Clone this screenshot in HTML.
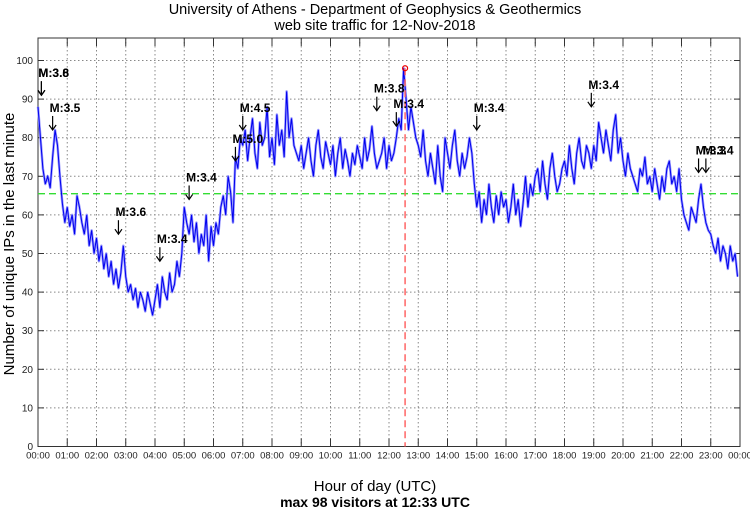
<!DOCTYPE html>
<html><head><meta charset="utf-8"><style>
body{margin:0;background:#fff;}
svg text{font-family:"Liberation Sans",sans-serif;}
</style></head><body>
<svg id="c" width="750" height="511" viewBox="0 0 750 511">
<text x="375" y="14" text-anchor="middle" font-size="14.5">University of Athens - Department of Geophysics &amp; Geothermics</text>
<text x="375" y="30" text-anchor="middle" font-size="14.5">web site traffic for 12-Nov-2018</text>
<text x="375" y="491" text-anchor="middle" font-size="15">Hour of day (UTC)</text>
<text x="375" y="507" text-anchor="middle" font-size="14" font-weight="bold">max 98 visitors at 12:33 UTC</text>
<text transform="translate(14,244) rotate(-90)" text-anchor="middle" font-size="15">Number of unique IPs in the last minute</text>
<g id="grid"></g><g id="series"></g><g id="ann"></g>
</svg>
<script>
const values = [
88,80,72,68,70,67,75,82,78,70,63,58,
62,57,60,55,65,62,58,55,60,52,56,50,
54,48,52,46,50,44,48,42,46,41,45,52,
44,40,42,38,41,36,40,38,35,40,37,34,
38,42,36,44,40,38,45,40,42,48,44,50,
62,58,55,60,53,58,50,55,52,60,48,57,
52,58,55,62,65,60,70,66,58,75,72,80,
78,82,74,80,85,76,72,84,78,80,88,75,
80,73,86,78,82,75,92,80,85,78,76,74,
78,72,76,80,74,70,78,82,75,72,79,76,
73,78,70,76,80,72,77,74,70,76,73,78,
75,72,80,74,77,83,76,72,74,76,80,72,
78,74,76,80,85,82,98,90,82,88,84,80,
78,75,82,74,70,76,72,68,78,70,66,80,
76,72,78,82,74,70,76,72,75,80,76,68,
62,66,58,64,60,68,62,58,65,60,66,62,
64,58,62,68,60,64,57,63,70,62,68,65,
70,72,66,74,68,64,72,76,70,66,68,72,
74,70,78,72,68,76,80,74,72,78,76,72,
78,74,84,80,76,82,78,74,82,86,76,80,
74,70,76,72,70,68,66,72,70,75,68,70,
66,72,68,64,70,66,72,74,68,70,66,72,
64,60,58,56,62,60,58,64,68,62,58,56,
55,52,50,54,48,52,50,46,52,48,50,44];
const stepMinutes = 5;
const meanValue = 65.5;
const peakMinute = 753;
const peakValue = 98;
const yTicks = [0,10,20,30,40,50,60,70,80,90,100];
const xTickLabels = ["00:00","01:00","02:00","03:00","04:00","05:00","06:00","07:00","08:00","09:00","10:00","11:00","12:00","13:00","14:00","15:00","16:00","17:00","18:00","19:00","20:00","21:00","22:00","23:00","00:00"];
const quakeMinutes = [7,7,30,165,250,310,405,420,695,735,900,1135,1355,1370];
const quakeLabels = ["M:3.6","M:3.8","M:3.5","M:3.6","M:3.4","M:3.4","M:5.0","M:4.5","M:3.8","M:3.4","M:3.4","M:3.4","M:3.3","M:3.4"];
const quakeLevels = [91,91,82,55,48,64,74,82,87,83,82,88,71,71];

const L=38,R=740,T=38,B=446.5;
const xs=m=>L+(R-L)*m/1440;
const ys=v=>B-(B-60.5)*v/100;
const NS="http://www.w3.org/2000/svg";
function mk(tag,attrs,parent){const e=document.createElementNS(NS,tag);for(const k in attrs)e.setAttribute(k,attrs[k]);parent.appendChild(e);return e;}
const grid=document.getElementById('grid'),ser=document.getElementById('series'),ann=document.getElementById('ann');
yTicks.forEach(v=>{
  const y=ys(v);
  if(v>0){const g=mk('line',{x1:L,x2:R,y1:y,y2:y,stroke:'#888','stroke-dasharray':'1.5,2.5','stroke-width':1},grid);
  
  }
  mk('line',{x1:L,x2:L+6,y1:y,y2:y,stroke:'#333'},grid);
  mk('line',{x1:R-6,x2:R,y1:y,y2:y,stroke:'#333'},grid);
  const t=mk('text',{x:L-5,y:y+3.5,'text-anchor':'end','font-size':10,fill:'#222'},grid);t.textContent=v;
  
  
});
xTickLabels.forEach((lab,i)=>{
  const x=xs(i*60);
  if(i>0&&i<24){const g=mk('line',{x1:x,x2:x,y1:T,y2:B,stroke:'#888','stroke-dasharray':'1.5,2.5'},grid);
  
  }
  mk('line',{x1:x,x2:x,y1:B-8,y2:B,stroke:'#333'},grid);
  mk('line',{x1:x,x2:x,y1:T,y2:T+8,stroke:'#333'},grid);
  const t=mk('text',{x:x,y:B+12,'text-anchor':'middle','font-size':9.5,fill:'#222'},grid);t.textContent=lab;
  
  
});
const fr=mk('rect',{x:L,y:T,width:R-L,height:B-T,fill:'none',stroke:'#333','stroke-width':1},grid);


const ml=mk('line',{x1:L,x2:R,y1:ys(meanValue),y2:ys(meanValue),stroke:'#33dd33','stroke-dasharray':'7,4','stroke-width':1.3},ser);


const pts=values.map((v,i)=>xs(i*stepMinutes)+','+ys(v)).join(' ');
const wide=mk('polyline',{points:pts,fill:'none',stroke:'#9999ff','stroke-width':2.5,'stroke-linejoin':'round'},ser);


const pl=mk('polyline',{points:pts,fill:'none',stroke:'#0000ee','stroke-width':1},ser);


const pk=mk('line',{x1:xs(peakMinute),x2:xs(peakMinute),y1:ys(peakValue),y2:B,stroke:'#ff6666','stroke-dasharray':'7,4','stroke-width':1.5},ser);


const pc=mk('circle',{cx:xs(peakMinute),cy:ys(peakValue),r:2.5,fill:'none',stroke:'#ee0000','stroke-width':1.2},ser);


quakeMinutes.forEach((m,i)=>{
  const x=xs(m),y=ys(quakeLevels[i]);
  const a=mk('line',{x1:x,x2:x,y1:y-14,y2:y,stroke:'#000','stroke-width':1.2},ann);
  
  
  const h=mk('path',{d:`M${x-3.5},${y-5} L${x},${y} L${x+3.5},${y-5}`,fill:'none',stroke:'#000','stroke-width':1.2},ann);
  
  
  const t=mk('text',{x:x-3,y:y-18,'font-size':12,'font-weight':'bold'},ann);t.textContent=quakeLabels[i];
  
  
});
</script>
</body></html>
